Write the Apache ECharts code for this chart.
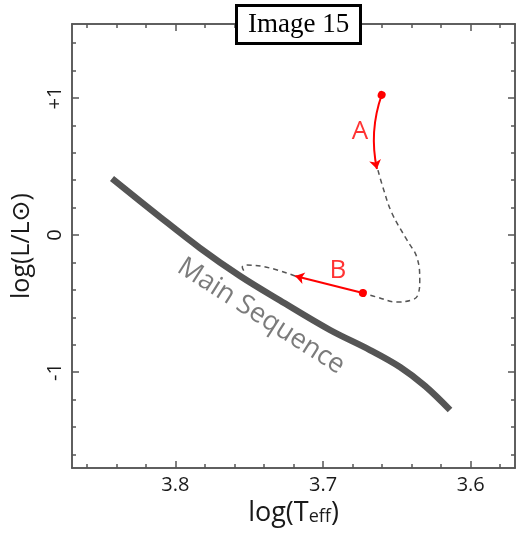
<!DOCTYPE html>
<html>
<head>
<meta charset="utf-8">
<script src="https://cdn.jsdelivr.net/npm/echarts@6/dist/echarts.min.js"></script>
<style>
  html, body { margin: 0; padding: 0; background: #fff; }
  #chart { width: 517px; height: 535px; }
</style>
</head>
<body>
<div id="chart"></div>
<script>
// Axis ticks (log Teff decreases to the right)
const xMajorTicks = [3.8, 3.7, 3.6];
const xMinorTicks = [3.86, 3.84, 3.82, 3.8, 3.78, 3.76, 3.74, 3.72, 3.7, 3.68, 3.66, 3.64, 3.62, 3.6, 3.58];
const yMajorTicks = [-1, 0, 1];
const yMinorTicks = [-1.6, -1.4, -1.2, -1, -0.8, -0.6, -0.4, -0.2, 0, 0.2, 0.4, 0.6, 0.8, 1, 1.2, 1.4];

// Zero-age main sequence [log Teff, log L/Lsun]
const mainSequence = [
  [3.8429, 0.413], [3.8104, 0.132], [3.7833, -0.095], [3.7562, -0.299],
  [3.7291, -0.478], [3.6953, -0.693], [3.6682, -0.839], [3.6479, -0.963],
  [3.6309, -1.102], [3.6140, -1.277]
];

// Pre-main-sequence track, dashed parts
const trackAfterA = [
  [3.6628, 0.474], [3.6595, 0.350], [3.6534, 0.161], [3.6432, -0.036],
  [3.6365, -0.161], [3.6345, -0.328], [3.6358, -0.438], [3.6399, -0.474],
  [3.6500, -0.489], [3.6635, -0.453], [3.6703, -0.431]
];
const trackAfterB = [
  [3.7189, -0.299], [3.7358, -0.241], [3.7514, -0.219], [3.7547, -0.234], [3.7527, -0.277]
];

// Highlighted phases (start point, end point)
const phaseA = [[3.6603, 1.022], [3.6635, 0.482]];
const phaseB = [[3.6730, -0.423], [3.7189, -0.299]];

// Text annotations [log Teff, log L, text]
const phaseLabels = [[3.6750, 0.752, 'A'], [3.6899, -0.263, 'B']];
const sequenceLabel = [3.7420, -0.592, 'Main Sequence'];

const FONT = '"Open Sans", "DejaVu Sans", sans-serif';
const FRAME = '#555';

function xAxisDef(position, ticks, len, withLabels) {
  return {
    type: 'value', gridIndex: 0, position: position,
    min: 3.57, max: 3.87, inverse: true,
    axisLine: { show: true, onZero: false, lineStyle: { color: FRAME, width: 1.5 } },
    axisTick: { show: true, inside: true, length: len, customValues: ticks,
                lineStyle: { color: FRAME, width: 1.5 } },
    axisLabel: withLabels ? {
      show: true, customValues: ticks, margin: 7,
      fontSize: 20, fontFamily: FONT, color: '#1a1a1a',
      formatter: v => v.toFixed(1)
    } : { show: false },
    splitLine: { show: false },
    name: withLabels ? '{a|log(T}{b|eff}{a|)}' : '',
    nameLocation: 'middle', nameGap: 31,
    nameTextStyle: { rich: {
      a: { fontSize: 27, fontFamily: FONT, color: '#1a1a1a' },
      b: { fontSize: 18, fontFamily: FONT, color: '#1a1a1a', padding: [7, 0, 0, 0] }
    } }
  };
}

function yAxisDef(position, ticks, len, withLabels) {
  return {
    type: 'value', gridIndex: 0, position: position,
    min: -1.7, max: 1.54,
    axisLine: { show: true, onZero: false, lineStyle: { color: FRAME, width: 1.5 } },
    axisTick: { show: true, inside: true, length: len, customValues: ticks,
                lineStyle: { color: FRAME, width: 1.5 } },
    axisLabel: withLabels ? {
      show: true, customValues: ticks, margin: 7, rotate: 90,
      fontSize: 20, fontFamily: FONT, color: '#1a1a1a',
      formatter: v => (v > 0 ? '+' + v : String(v))
    } : { show: false },
    splitLine: { show: false },
    name: withLabels ? 'log(L/L\u2299)' : '',
    nameLocation: 'middle', nameGap: 38, nameRotate: 90,
    nameTextStyle: { fontSize: 25, fontFamily: FONT, color: '#1a1a1a' }
  };
}

const chart = echarts.init(document.getElementById('chart'), null, { renderer: 'canvas' });

chart.setOption({
  animation: false,
  backgroundColor: '#fff',
  title: {
    text: 'Image 15',
    left: 236, top: 5,
    padding: [4, 12, 3, 12],
    borderColor: '#000', borderWidth: 3,
    backgroundColor: '#fff',
    textStyle: { fontFamily: '"Liberation Serif", "Times New Roman", serif',
                 fontSize: 27, fontWeight: 'normal', color: '#000', lineHeight: 32 },
    z: 20
  },
  grid: { left: 72, top: 24, right: 2, bottom: 67, containLabel: false },
  xAxis: [
    xAxisDef('bottom', xMajorTicks, 7, true),
    xAxisDef('bottom', xMinorTicks, 4, false),
    xAxisDef('top', xMajorTicks, 7, false),
    xAxisDef('top', xMinorTicks, 4, false)
  ],
  yAxis: [
    yAxisDef('left', yMajorTicks, 7, true),
    yAxisDef('left', yMinorTicks, 4, false),
    yAxisDef('right', yMajorTicks, 7, false),
    yAxisDef('right', yMinorTicks, 4, false)
  ],
  series: [
    {
      type: 'line', name: 'Main Sequence',
      data: mainSequence, smooth: 0.35, showSymbol: false,
      lineStyle: { color: '#555', width: 6.5, cap: 'butt' },
      z: 3
    },
    {
      type: 'line', data: trackAfterA, smooth: 0.4, showSymbol: false,
      lineStyle: { color: '#555', width: 1.5, type: [5, 4] }, z: 4
    },
    {
      type: 'line', data: trackAfterB, smooth: 0.4, showSymbol: false,
      lineStyle: { color: '#555', width: 1.5, type: [5, 4] }, z: 4
    },
    {
      type: 'lines', coordinateSystem: 'cartesian2d',
      symbol: ['circle', 'arrow'], symbolSize: [8, 9],
      lineStyle: { color: '#ff0000', width: 2, opacity: 1 },
      itemStyle: { color: '#ff0000' },
      data: [
        { coords: phaseA, lineStyle: { curveness: -0.14 } },
        { coords: phaseB, lineStyle: { curveness: 0 } }
      ],
      z: 5
    },
    {
      type: 'scatter', symbolSize: 1,
      itemStyle: { color: 'rgba(0,0,0,0)' },
      data: phaseLabels.map(d => ({ value: [d[0], d[1]], name: d[2] })),
      label: { show: true, position: 'inside', formatter: p => p.name,
               fontSize: 26, fontFamily: FONT, color: '#ff0000' },
      z: 6
    },
    {
      type: 'scatter', symbolSize: 1,
      itemStyle: { color: 'rgba(0,0,0,0)' },
      data: [{ value: [sequenceLabel[0], sequenceLabel[1]], name: sequenceLabel[2] }],
      label: { show: true, position: 'inside', formatter: p => p.name, rotate: -32.5,
               fontSize: 27, fontFamily: FONT, color: '#5a5a5a' },
      z: 6
    }
  ]
});
</script>
</body>
</html>
